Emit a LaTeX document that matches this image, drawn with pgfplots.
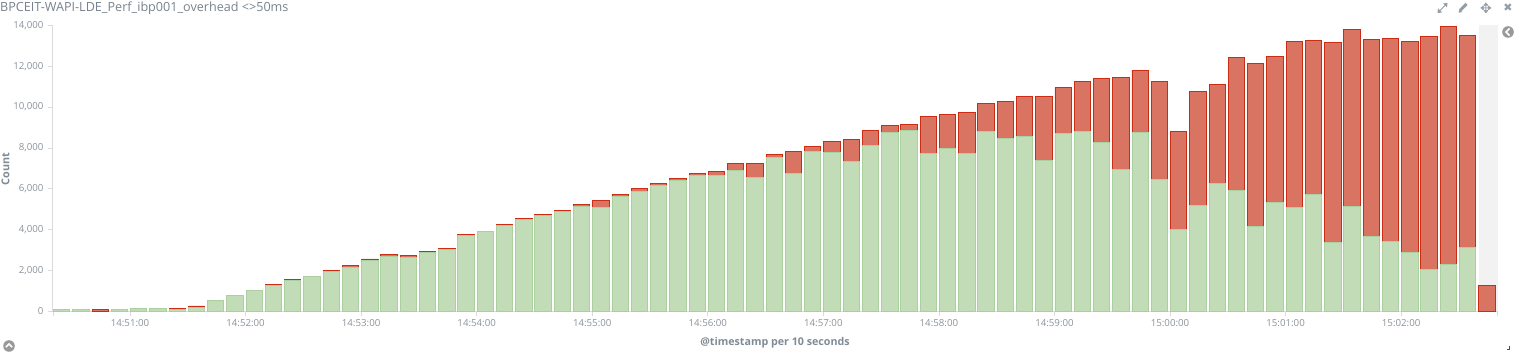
\documentclass[border=0pt]{standalone}
\usepackage{pgfplots}
\pgfplotsset{compat=1.18}
\usepackage{pgfplotstable}
\usepackage{fontspec}
\setmainfont{Open Sans}
\newfontfamily\symf{DejaVu Sans}
\definecolor{gfill}{HTML}{C3DCB8}
\definecolor{gline}{HTML}{ABD0A0}
\definecolor{rfill}{HTML}{D97462}
\definecolor{rline}{HTML}{CB2C14}
\definecolor{axl}{HTML}{DADADA}
\definecolor{tk}{HTML}{8A929A}
\definecolor{ic}{HTML}{939DA6}
\definecolor{ttl}{HTML}{77828C}
\definecolor{lab}{HTML}{7F8B96}
\pgfplotstableread{
x green red
0 90 10
1 90 10
2 0 90
3 100 0
4 170 0
5 170 0
6 110 60
7 180 90
8 560 0
9 800 0
10 1010 0
11 1250 50
12 1500 80
13 1710 0
14 1960 60
15 2170 60
16 2500 70
17 2690 80
18 2640 80
19 2870 60
20 3030 70
21 3700 50
22 3930 0
23 4210 60
24 4490 80
25 4700 60
26 4910 50
27 5120 130
28 5100 350
29 5630 110
30 5870 150
31 6170 80
32 6430 80
33 6670 80
34 6670 200
35 6920 340
36 6570 690
37 7530 170
38 6740 1110
39 7830 260
40 7800 530
41 7340 1090
42 8140 700
43 8770 310
44 8840 330
45 7750 1790
46 7960 1660
47 7710 2040
48 8810 1380
49 8460 1830
50 8550 1990
51 7400 3140
52 8710 2230
53 8810 2440
54 8290 3110
55 6930 4540
56 8740 3070
57 6470 4800
58 4000 4790
59 5190 5590
60 6280 4840
61 5920 6520
62 4160 7970
63 5320 7170
64 5070 8120
65 5710 7570
66 3360 9800
67 5140 8670
68 3690 9620
69 3440 9920
70 2900 10310
71 2070 11370
72 2280 11650
73 3130 10370
74 0 1290
}\datatable
\begin{document}
\begin{tikzpicture}[x=1pt,y=1pt]
\path[use as bounding box] (0,0) rectangle (1518,353);
\fill[black!5] (1479,41.5) rectangle (1497.5,327.7);
\begin{axis}[
  at={(53pt,41.5pt)}, anchor=south west,
  scale only axis, width=1444.5pt, height=286.2pt,
  xmin=-0.448, xmax=74.55, ymin=0, ymax=14000,
  ybar stacked, bar width=0.85,
  axis x line*=bottom, axis y line*=left,
  axis line style={axl, line width=1pt, -},
  tick style={axl, line width=0.8pt},
  major tick length=5pt,
  tick align=outside,
  xtick={3.55,9.55,15.55,21.55,27.55,33.55,39.55,45.55,51.55,57.55,63.55,69.55},
  xticklabels={14:51:00,14:52:00,14:53:00,14:54:00,14:55:00,14:56:00,14:57:00,14:58:00,14:59:00,15:00:00,15:01:00,15:02:00},
  extra x ticks={-0.448,74.55},
  extra x tick labels={},
  ytick={0,2000,...,14000},
  /pgf/number format/assume math mode=true,
  /pgf/number format/1000 sep={,},
  scaled y ticks=false,
  tick label style={font=\fontsize{9.7}{12}\selectfont, text=tk},
  xticklabel style={yshift=1pt},
  yticklabel style={xshift=-1pt},
  clip=false,
]
\addplot[draw=gline, fill=gfill, line width=0.9pt] table[x=x,y=green] {\datatable};
\addplot[draw=rline, fill=rfill, line width=0.9pt] table[x=x,y=red] {\datatable};
\end{axis}
\node[anchor=west, inner sep=0pt, text=ttl, font=\fontsize{12.6}{15}\selectfont] at (0,344.5) {BPCEIT-WAPI-LDE\_Perf\_ibp001\_overhead <>50ms};
\node[rotate=90, inner sep=0pt, text=lab, font=\fontsize{10.8}{13}\selectfont\bfseries] at (5.5,184) {Count};
\node[inner sep=0pt, text=lab, font=\fontsize{10.7}{13}\selectfont\bfseries] at (775,10) {@timestamp per 10 seconds};
% panel icons
\draw[ic, line width=1pt] (1438.5,341) -- (1446.5,349);
\fill[ic] (1437.5,340) -- (1442,340.5) -- (1438,344.5) -- cycle;
\fill[ic] (1447.5,350) -- (1443,349.5) -- (1447,345.5) -- cycle;
\draw[ic, line width=3pt] (1460.5,343) -- (1466.5,349);
\fill[ic] (1458.6,340.3) -- (1462.3,341) -- (1459.3,344) -- cycle;
\node[inner sep=0pt, text=ic, font=\symf\fontsize{14}{14}\selectfont] at (1486,345) {✥};
\node[inner sep=0pt, text=ic, font=\symf\fontsize{11}{13}\selectfont] at (1508,345) {✖};
% collapse buttons
\fill[black!40] (9,7) circle (5.8);
\draw[white, line width=1.5pt] (5.8,5.8) -- (9,9) -- (12.2,5.8);
\fill[black!40] (1508,321) circle (5.8);
\draw[white, line width=1.5pt] (1509.5,324.5) -- (1506,321) -- (1509.5,317.5);
\fill[black!70] (1506.5,3) rectangle (1510,4.2);
\fill[black!70] (1508.8,3) rectangle (1510,6.5);
\end{tikzpicture}
\end{document}
